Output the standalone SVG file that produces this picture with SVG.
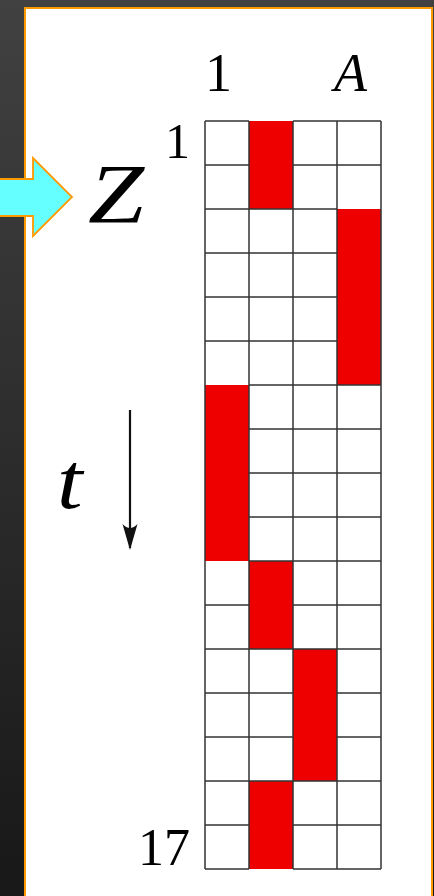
<svg xmlns="http://www.w3.org/2000/svg" width="434" height="896" viewBox="0 0 434 896">
<defs>
<linearGradient id="bg" x1="0" y1="0" x2="0" y2="1">
<stop offset="0" stop-color="#414141"/>
<stop offset="1" stop-color="#181818"/>
</linearGradient>
<marker id="ah" markerWidth="26" markerHeight="16" refX="24" refY="8" orient="auto" markerUnits="userSpaceOnUse" viewBox="0 0 26 16">
<path d="M26,8 L0,0.5 Q8,8 0,15.5 Z" fill="#111"/>
</marker>
<style>
.lbl{font-family:"Liberation Serif","Times New Roman",serif;fill:#000}
.it{font-style:italic}
.grid{stroke:#333;stroke-width:1.5;fill:none}
.red{fill:#ee0000}
</style>
</defs>
<rect x="0" y="0" width="434" height="896" fill="url(#bg)"/>
<rect x="25" y="8" width="407" height="900" fill="#fff" stroke="#ff9900" stroke-width="2"/>
<g id="input-arrow">
<path d="M-2,179 L33,179 L33,158 L72,197 L33,236 L33,216 L-2,216 Z" fill="#66ffff" stroke="#ff9900" stroke-width="1.8" stroke-linejoin="miter"/>
</g>
<g id="grid">
<rect class="red" x="249" y="121" width="44" height="88"/>
<rect class="red" x="337" y="209" width="44" height="176"/>
<rect class="red" x="205" y="385" width="44" height="176"/>
<rect class="red" x="249" y="561" width="44" height="88"/>
<rect class="red" x="293" y="649" width="44" height="132"/>
<rect class="red" x="249" y="781" width="44" height="88"/>
<path class="grid" d="M205,121V869M249,121V869M293,121V869M337,121V869M381,121V869"/>
<path class="grid" d="M205,121H249M293,121H381M205,165H249M293,165H381M205,209H337M205,253H337M205,297H337M205,341H337M249,385H381M249,429H381M249,473H381M249,517H381M249,561H381M205,605H249M293,605H381M205,649H381M205,693H293M337,693H381M205,737H293M337,737H381M205,781H381M205,825H249M293,825H381M205,869H249M293,869H381"/>
<rect class="red" x="250" y="122" width="42" height="86"/>
<rect class="red" x="338" y="210" width="42" height="174"/>
<rect class="red" x="206" y="386" width="42" height="174"/>
<rect class="red" x="250" y="562" width="42" height="86"/>
<rect class="red" x="294" y="650" width="42" height="130"/>
<rect class="red" x="250" y="782" width="42" height="86"/>
</g>
<g id="labels">
<text class="lbl" x="218.5" y="91" font-size="54" text-anchor="middle">1</text>
<text class="lbl it" x="334" y="91" font-size="54">A</text>
<text class="lbl" x="177.5" y="158" font-size="50" text-anchor="middle">1</text>
<text class="lbl" x="164" y="865" font-size="52" text-anchor="middle">17</text>
<text class="lbl it" transform="translate(88,223) scale(1.2,1)" x="0" y="0" font-size="84">Z</text>
<text class="lbl it" transform="translate(57,508) scale(1.15,1)" x="0" y="0" font-size="80">t</text>
</g>
<g id="connectors">
<line x1="130" y1="410" x2="130" y2="548" stroke="#111" stroke-width="2.2" marker-end="url(#ah)"/>
</g>
</svg>
